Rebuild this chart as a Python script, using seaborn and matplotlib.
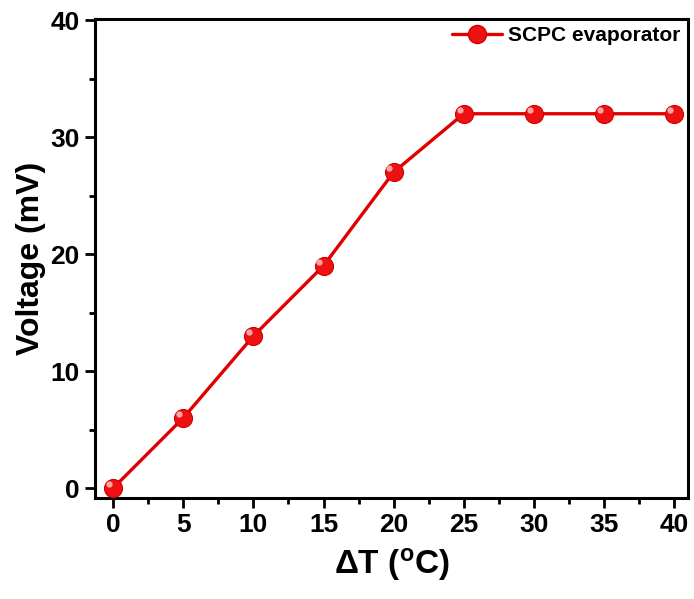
import matplotlib
matplotlib.use("Agg")
import matplotlib.pyplot as plt
import matplotlib.transforms as mtransforms
from matplotlib.lines import Line2D
from matplotlib.ticker import MultipleLocator
import seaborn as sns
import pandas as pd

delta_t = [0, 5, 10, 15, 20, 25, 30, 35, 40]
voltage = [0, 6, 13, 19, 27, 32, 32, 32, 32]
series_name = "SCPC evaporator"

sns.set_theme(style="white")
plt.rcParams["font.family"] = ["Liberation Sans", "DejaVu Sans"]
plt.rcParams["font.weight"] = "bold"
plt.rcParams["mathtext.fontset"] = "custom"
plt.rcParams["mathtext.bf"] = "Liberation Sans:bold"
plt.rcParams["mathtext.rm"] = "Liberation Sans:bold"
for key in ["text.color", "axes.labelcolor", "xtick.color", "ytick.color"]:
    plt.rcParams[key] = "black"

df = pd.DataFrame({"dT": delta_t, "V": voltage})

fig = plt.figure(figsize=(6.94, 5.99), dpi=100)
ax = fig.add_axes([95 / 694, 1 - 498 / 599, (688 - 95) / 694, (498 - 19) / 599])

sns.lineplot(data=df, x="dT", y="V", ax=ax, color="#e00000", linewidth=2.4,
             marker="o", markersize=13, markerfacecolor="#ee1111",
             markeredgecolor="#d40000", markeredgewidth=0.8, zorder=3)

# glossy highlight on each marker
shift = mtransforms.ScaledTranslation(-3 / 72, 3 / 72, fig.dpi_scale_trans)
ax.plot(delta_t, voltage, linestyle="none", marker="o", markersize=4.5,
        markerfacecolor="#ffb8b8", markeredgewidth=0, alpha=0.9,
        transform=ax.transData + shift, zorder=4)

ax.set_xlim(-1.3, 41.0)
ax.set_ylim(-0.85, 40.1)
ax.xaxis.set_major_locator(MultipleLocator(5))
ax.xaxis.set_minor_locator(MultipleLocator(2.5))
ax.yaxis.set_major_locator(MultipleLocator(10))
ax.yaxis.set_minor_locator(MultipleLocator(5))

for s in ax.spines.values():
    s.set_color("black")
    s.set_linewidth(2.2)

ax.tick_params(axis="both", which="major", direction="out", length=7, width=2,
               colors="black", labelsize=19, pad=4)
ax.tick_params(axis="both", which="minor", direction="out", length=4, width=2,
               colors="black")
ax.tick_params(bottom=True, left=True, which="both")
for lbl in ax.get_xticklabels() + ax.get_yticklabels():
    lbl.set_fontweight("bold")

ax.set_xlabel(r"$\Delta$T ($\mathbf{^o}$C)", fontsize=24, fontweight="bold", labelpad=6)
ax.set_ylabel("Voltage (mV)", fontsize=23, fontweight="bold", labelpad=3)

handle = Line2D([], [], color="#e00000", linewidth=2.4, marker="o", markersize=13,
                markerfacecolor="#ee1111", markeredgecolor="#d40000")
ax.legend([handle], [series_name], loc="upper right", frameon=False,
          prop={"weight": "bold", "size": 15}, handlelength=2.4,
          borderaxespad=0.05, handletextpad=0.3, borderpad=0.3)

fig.savefig("out.png", dpi=100)
